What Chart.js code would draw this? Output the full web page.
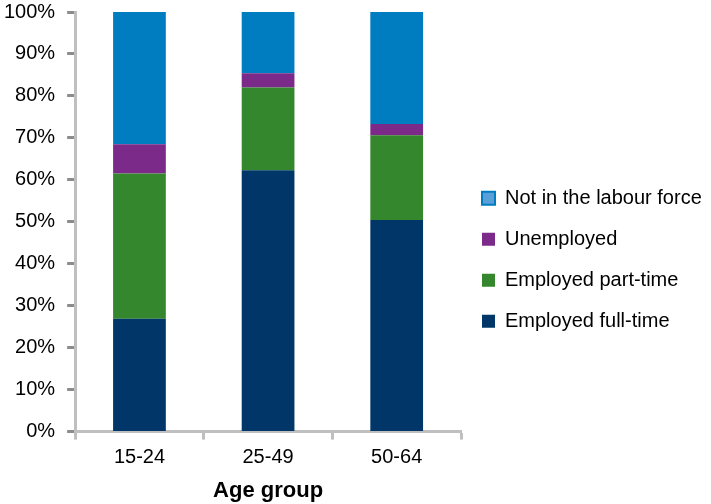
<!DOCTYPE html>
<html>
<head>
<meta charset="utf-8">
<script src="https://cdn.jsdelivr.net/npm/chart.js@4.4.1/dist/chart.umd.min.js"></script>
<style>
  html, body { margin: 0; padding: 0; background: #fff; }
  .wrap { width: 711px; height: 504px; position: relative; }
</style>
</head>
<body>
<div class="wrap"><canvas class="chart-1"></canvas></div>
<script>
// labour force status by age group, percent of population
const ageGroups = ['15-24', '25-49', '50-64'];
const fullTime = [26.9, 62.3, 50.4];
const partTime = [34.6, 19.7, 20.2];
const unemployed = [7.0, 3.4, 2.7];
const notInLabourForce = [31.5, 14.6, 26.7];

const font = "'Liberation Sans', Arial, sans-serif";

var ctx1 = document.querySelector(".chart-1");
const chart1 = new Chart(ctx1, {
    type: 'bar',
    data: {
        labels: ageGroups,
        datasets: [
            { label: 'Employed full-time', data: fullTime, backgroundColor: '#003768' },
            { label: 'Employed part-time', data: partTime, backgroundColor: '#34872d' },
            { label: 'Unemployed', data: unemployed, backgroundColor: '#7b2a8a' },
            { label: 'Not in the labour force', data: notInLabourForce, backgroundColor: '#007cc0' }
        ]
    },
    options: {
        responsive: true,
        maintainAspectRatio: false,
        animation: false,
        layout: { padding: { top: 12, right: 9, left: -8, bottom: 0 } },
        datasets: { bar: { categoryPercentage: 0.41, barPercentage: 1 } },
        plugins: {
            tooltip: { enabled: false },
            legend: {
                position: 'right',
                fullSize: false,
                reverse: true,
                maxWidth: 241,
                // blank title only pushes the items down a bit
                title: {
                    display: true,
                    text: ' ',
                    font: { family: font, size: 20 },
                    padding: { top: 52, bottom: 0 }
                },
                labels: {
                    color: '#000',
                    font: { family: font, size: 20 },
                    boxWidth: 13,
                    boxHeight: 13,
                    padding: 21,
                    generateLabels: function (chart) {
                        const items = Chart.defaults.plugins.legend.labels.generateLabels(chart);
                        items.forEach(function (it) {
                            it.lineWidth = 0;
                            if (it.datasetIndex === 3) {
                                it.fillStyle = '#5a9fd8';
                                it.strokeStyle = '#007cc0';
                                it.lineWidth = 2;
                            }
                        });
                        return items;
                    }
                }
            }
        },
        scales: {
            x: {
                stacked: true,
                border: { color: '#bfbfbf', width: 3 },
                grid: {
                    offset: true,
                    drawOnChartArea: false,
                    tickLength: 8,
                    tickColor: '#bfbfbf',
                    tickWidth: 3
                },
                ticks: { color: '#000', font: { family: font, size: 20 }, padding: 6 },
                title: {
                    display: true,
                    text: 'Age group',
                    color: '#000',
                    font: { family: font, size: 22, weight: 'bold' },
                    padding: { top: 2, bottom: 0 }
                }
            },
            y: {
                stacked: true,
                min: 0,
                max: 100,
                border: { color: '#bfbfbf', width: 3 },
                grid: {
                    drawOnChartArea: false,
                    tickLength: 8,
                    tickColor: '#8c8c8c',
                    tickWidth: 3
                },
                ticks: {
                    stepSize: 10,
                    color: '#000',
                    // zero line height keeps the top label from padding the plot
                    font: { family: font, size: 20, lineHeight: 0 },
                    padding: 12,
                    callback: function (v) { return v + '%'; }
                }
            }
        }
    }
});
</script>
</body>
</html>
